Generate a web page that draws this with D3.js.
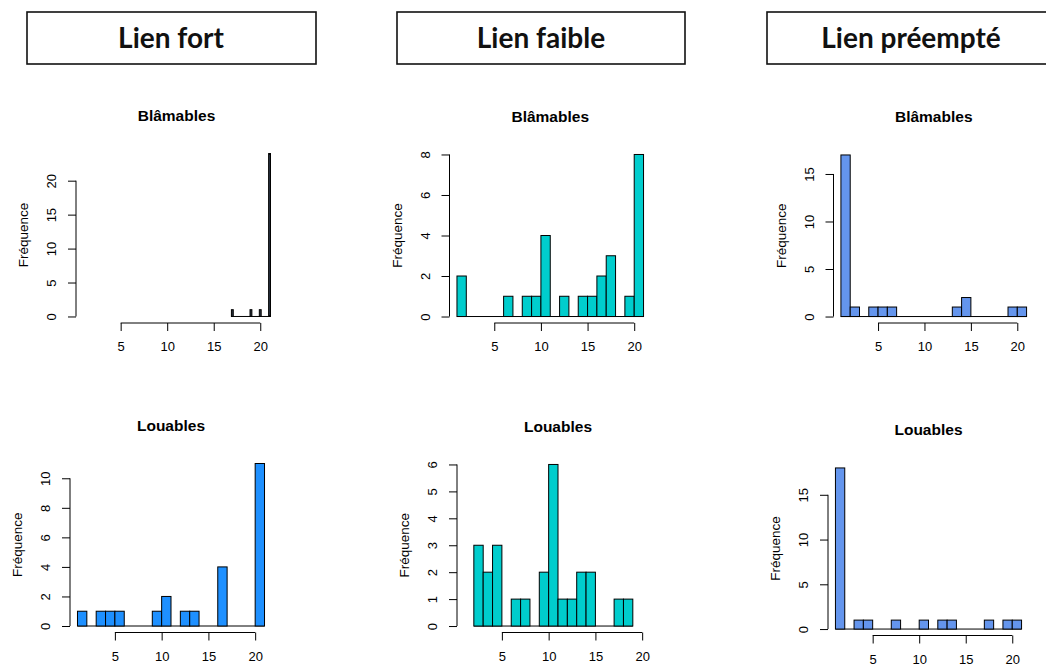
<!DOCTYPE html>
<html>
<head>
<meta charset="utf-8">
<script src="https://cdn.jsdelivr.net/npm/d3@7"></script>
<style>
  html, body { margin: 0; padding: 0; background: #fff; }
  svg { display: block; }
</style>
</head>
<body>
<div id="chart"></div>
<script>
  // --- Data ---
  const headers = ['Lien fort', 'Lien faible', 'Lien préempté'];
  const panelTitles = ['Blâmables', 'Louables'];
  const xTicks = [5, 10, 15, 20];

  // Lien fort / Blâmables : very narrow bins (width 0.2) starting at 16.9
  const fortBlamablesStart = 16.9;
  const fortBlamablesWidth = 0.2;
  const fortBlamables = [1, 0, 0, 0, 0, 0, 0, 0, 0, 0, 1, 0, 0, 0, 0, 1, 0, 0, 0, 0, 24];
  const fortBlamablesTicks = [0, 5, 10, 15, 20];

  // other panels : bins of width 1
  const faibleBlamablesStart = 1;
  const faibleBlamables = [2, 0, 0, 0, 0, 1, 0, 1, 1, 4, 0, 1, 0, 1, 1, 2, 3, 0, 1, 8];
  const faibleBlamablesTicks = [0, 2, 4, 6, 8];

  const preemptBlamablesStart = 1;
  const preemptBlamables = [17, 1, 0, 1, 1, 1, 0, 0, 0, 0, 0, 0, 1, 2, 0, 0, 0, 0, 1, 1];
  const preemptBlamablesTicks = [0, 5, 10, 15];

  const fortLouablesStart = 1;
  const fortLouables = [1, 0, 1, 1, 1, 0, 0, 0, 1, 2, 0, 1, 1, 0, 0, 4, 0, 0, 0, 11];
  const fortLouablesTicks = [0, 2, 4, 6, 8, 10];

  const faibleLouablesStart = 2;
  const faibleLouables = [3, 2, 3, 0, 1, 1, 0, 2, 6, 1, 1, 2, 2, 0, 0, 1, 1];
  const faibleLouablesTicks = [0, 1, 2, 3, 4, 5, 6];

  const preemptLouablesStart = 1;
  const preemptLouables = [18, 0, 1, 1, 0, 0, 1, 0, 0, 1, 0, 1, 1, 0, 0, 0, 1, 0, 1, 1];
  const preemptLouablesTicks = [0, 5, 10, 15];

  // --- Layout / styles ---
  const W = 1046, H = 667;
  const FONT = '"Liberation Sans", Arial, sans-serif';
  const COLORS = {
    dark: '#2a3340',
    cyan: '#00CDCD',
    dodger: '#1E90FF',
    cornflower: '#6495ED',
  };

  const headerBoxes = [
    { x: 27, w: 289, cx: 171 },
    { x: 397, w: 288, cx: 541 },
    { x: 767, w: 300, cx: 911 },
  ];

  // plot regions [left, right, top, bottom] of each R histogram
  const panels = [
    { title: 0, rect: [76, 277, 147, 323], start: fortBlamablesStart, width: fortBlamablesWidth, counts: fortBlamables, yTicks: fortBlamablesTicks, fill: COLORS.dark },
    { title: 0, rect: [449.5, 651, 148, 323], start: faibleBlamablesStart, width: 1, counts: faibleBlamables, yTicks: faibleBlamablesTicks, fill: COLORS.cyan },
    { title: 0, rect: [833.5, 1034, 148.5, 323], start: preemptBlamablesStart, width: 1, counts: preemptBlamables, yTicks: preemptBlamablesTicks, fill: COLORS.cornflower },
    { title: 1, rect: [70, 272, 457, 632.5], start: fortLouablesStart, width: 1, counts: fortLouables, yTicks: fortLouablesTicks, fill: COLORS.dodger },
    { title: 1, rect: [457, 659, 458, 632.5], start: faibleLouablesStart, width: 1, counts: faibleLouables, yTicks: faibleLouablesTicks, fill: COLORS.cyan },
    { title: 1, rect: [828, 1029, 461.5, 635.5], start: preemptLouablesStart, width: 1, counts: preemptLouables, yTicks: preemptLouablesTicks, fill: COLORS.cornflower },
  ];

  const svg = d3.select('#chart').append('svg')
    .attr('width', W).attr('height', H);

  svg.append('rect').attr('width', W).attr('height', H).attr('fill', '#fff');

  // --- Header boxes ---
  headers.forEach((label, i) => {
    const b = headerBoxes[i];
    svg.append('rect')
      .attr('x', b.x).attr('y', 12)
      .attr('width', b.w).attr('height', 52)
      .attr('fill', 'none')
      .attr('stroke', '#111')
      .attr('stroke-width', 1.6);
    svg.append('text')
      .attr('x', b.cx).attr('y', 47.5)
      .attr('text-anchor', 'middle')
      .attr('font-family', 'Lato, "Open Sans", sans-serif')
      .attr('font-weight', 700)
      .attr('font-size', '28px')
      .attr('fill', '#111')
      .text(label);
  });

  // --- Histograms ---
  function renderHistogram(p) {
    const [left, right, top, bottom] = p.rect;
    const maxCount = d3.max(p.counts);

    const x = d3.scaleLinear().domain([0.2, 21.8]).range([left, right]);
    const y = d3.scaleLinear().domain([-0.04 * maxCount, 1.04 * maxCount]).range([bottom, top]);

    const g = svg.append('g');

    const bins = p.counts.map((c, i) => ({
      x0: p.start + i * p.width,
      x1: p.start + (i + 1) * p.width,
      count: c,
    }));

    // baseline of the empty bins
    g.append('line')
      .attr('x1', x(bins[0].x0)).attr('x2', x(bins[bins.length - 1].x1))
      .attr('y1', y(0)).attr('y2', y(0))
      .attr('stroke', '#000').attr('stroke-width', 1);

    g.selectAll('rect.bar')
      .data(bins.filter(d => d.count > 0))
      .join('rect')
      .attr('class', 'bar')
      .attr('x', d => x(d.x0))
      .attr('y', d => y(d.count))
      .attr('width', d => x(d.x1) - x(d.x0))
      .attr('height', d => y(0) - y(d.count))
      .attr('fill', p.fill)
      .attr('stroke', '#000')
      .attr('stroke-width', 1);

    // x axis (line only spans the ticks, like R)
    const gx = g.append('g')
      .attr('transform', `translate(0,${bottom})`)
      .call(d3.axisBottom(x).tickValues(xTicks).tickSize(8).tickSizeOuter(0).tickPadding(11));
    gx.select('.domain').attr('d', `M${x(xTicks[0])},0H${x(xTicks[xTicks.length - 1])}`);

    // y axis with rotated labels
    const yt = p.yTicks;
    const gy = g.append('g')
      .attr('transform', `translate(${left},0)`)
      .call(d3.axisLeft(y).tickValues(yt).tickSize(8).tickSizeOuter(0).tickFormat(d3.format('d')));
    gy.select('.domain').attr('d', `M0,${y(yt[0])}V${y(yt[yt.length - 1])}`);
    gy.selectAll('.tick text')
      .attr('transform', 'rotate(-90)')
      .attr('x', 0).attr('y', -20).attr('dy', 0)
      .attr('text-anchor', 'middle');

    [gx, gy].forEach(a => {
      a.attr('font-family', FONT).attr('font-size', '13px');
      a.selectAll('path, line').attr('stroke', '#000').attr('stroke-width', 1);
      a.selectAll('text').attr('fill', '#000');
    });

    // y label
    const cy = (top + bottom) / 2;
    g.append('text')
      .attr('transform', `translate(${left - 48},${cy}) rotate(-90)`)
      .attr('text-anchor', 'middle')
      .attr('font-family', FONT)
      .attr('font-size', '13.5px')
      .attr('fill', '#000')
      .text('Fréquence');

    // title
    g.append('text')
      .attr('x', (left + right) / 2).attr('y', top - 26.5)
      .attr('text-anchor', 'middle')
      .attr('font-family', FONT)
      .attr('font-weight', 700)
      .attr('font-size', '15.5px')
      .attr('fill', '#000')
      .text(panelTitles[p.title]);
  }

  panels.forEach(renderHistogram);
</script>
</body>
</html>
